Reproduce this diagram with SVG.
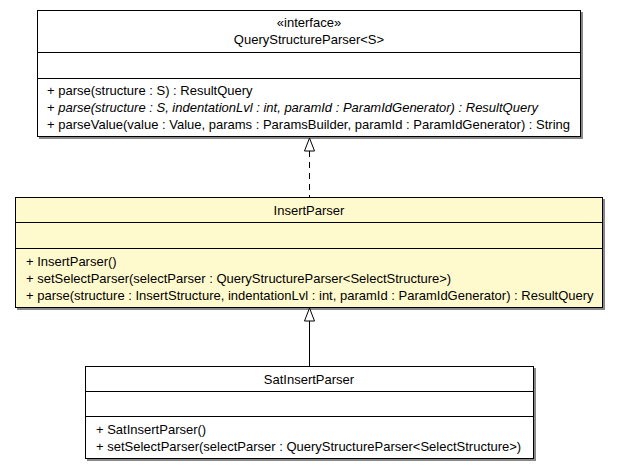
<svg xmlns="http://www.w3.org/2000/svg" width="619" height="471" viewBox="0 0 619 471">
<defs>
<style>
text{font-family:"Liberation Sans",Arial,sans-serif;font-size:13px;fill:#000}
.c{text-anchor:middle}
.i{font-style:italic}
.box{fill:#fff;stroke:#000;stroke-width:1}
.yel{fill:#fffacd}
.sh{fill:#888}
.ln{stroke:#000;stroke-width:1;fill:none}
.dash{stroke-dasharray:6,5}
.head{fill:#fff;stroke:#000;stroke-width:1}
</style>
</defs>
<rect width="619" height="471" fill="#fff"/>
<g id="QueryStructureParser">
<rect class="sh" x="39" y="12" width="544" height="127"/>
<rect class="box" x="37.5" y="10.5" width="543" height="126"/>
<line class="ln" x1="37.5" y1="52.5" x2="580.5" y2="52.5"/>
<line class="ln" x1="37.5" y1="78.5" x2="580.5" y2="78.5"/>
<text class="c" x="309" y="27">«interface»</text>
<text class="c" x="309" y="44">QueryStructureParser&lt;S&gt;</text>
<text x="47" y="95">+ parse(structure : S) : ResultQuery</text>
<text x="47" y="112"><tspan>+ </tspan><tspan class="i">parse(structure : S, indentationLvl : int, paramId : ParamIdGenerator) : ResultQuery</tspan></text>
<text x="47" y="129">+ parseValue(value : Value, params : ParamsBuilder, paramId : ParamIdGenerator) : String</text>
</g>
<g id="InsertParser">
<rect class="sh" x="17" y="199" width="588" height="111"/>
<rect class="box yel" x="15.5" y="197.5" width="587" height="110"/>
<line class="ln" x1="15.5" y1="222.5" x2="602.5" y2="222.5"/>
<line class="ln" x1="15.5" y1="248.5" x2="602.5" y2="248.5"/>
<text class="c" x="309" y="214.5">InsertParser</text>
<text x="26" y="265.5">+ InsertParser()</text>
<text x="26" y="282.5">+ setSelectParser(selectParser : QueryStructureParser&lt;SelectStructure&gt;)</text>
<text x="26" y="299.5">+ parse(structure : InsertStructure, indentationLvl : int, paramId : ParamIdGenerator) : ResultQuery</text>
</g>
<g id="SatInsertParser">
<rect class="sh" x="87" y="368" width="449" height="93"/>
<rect class="box" x="85.5" y="366.5" width="448" height="92"/>
<line class="ln" x1="85.5" y1="391.5" x2="533.5" y2="391.5"/>
<line class="ln" x1="85.5" y1="416.5" x2="533.5" y2="416.5"/>
<text class="c" x="309" y="383.5">SatInsertParser</text>
<text x="96" y="433.5">+ SatInsertParser()</text>
<text x="96" y="450.5">+ setSelectParser(selectParser : QueryStructureParser&lt;SelectStructure&gt;)</text>
</g>
<g id="connectors">
<line class="ln dash" x1="309.5" y1="151" x2="309.5" y2="197"/>
<polygon class="head" points="309.5,138 304.5,151 314.5,151"/>
<line class="ln" x1="309.5" y1="321" x2="309.5" y2="366"/>
<polygon class="head" points="309.5,308 304.5,321 314.5,321"/>
</g>
</svg>
